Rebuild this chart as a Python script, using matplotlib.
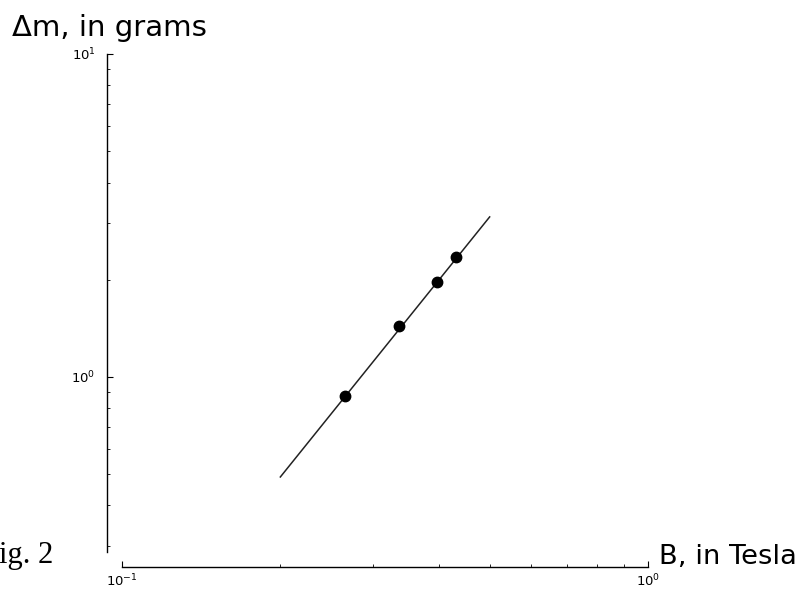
import matplotlib
matplotlib.use("Agg")
import matplotlib.pyplot as plt
from matplotlib.ticker import NullFormatter

# Data
B_points = [0.266, 0.336, 0.397, 0.4315]
dm_points = [0.875, 1.438, 1.968, 2.352]
fit_B = [0.2, 0.5]
fit_dm = [0.49, 3.13]

xlim = (0.1, 1.0)
ylim = (0.287, 10.0)

fig = plt.figure(figsize=(8.04, 5.92), dpi=100)
ax = fig.add_axes([122/804, 1-552/592, (648-122)/804, (552-54)/592])

ax.plot(fit_B, fit_dm, color="#222222", lw=1.1, zorder=2)
ax.plot(B_points, dm_points, "o", color="black", markersize=7.5, zorder=3)

ax.set_xscale("log")
ax.set_yscale("log")
ax.set_xlim(*xlim)
ax.set_ylim(*ylim)
ax.xaxis.set_minor_formatter(NullFormatter())
ax.yaxis.set_minor_formatter(NullFormatter())

for s in ("top", "right"):
    ax.spines[s].set_visible(False)
ax.spines["left"].set_position(("outward", 11))
ax.spines["bottom"].set_position(("outward", 11))
for s in ("left", "bottom"):
    ax.spines[s].set_linewidth(1.0)

ax.tick_params(which="major", direction="in", length=4.5, width=0.8, labelsize=9.5)
ax.tick_params(which="minor", direction="in", length=2.2, width=0.6)
ax.tick_params(axis="y", which="major", pad=8)
ax.tick_params(axis="x", which="major", pad=4)

fig.text(12/804, 1-28/592, "Δm, in grams", fontsize=21, ha="left", va="center")
fig.text(659/804, 1-557/592, "B, in Tesla", fontsize=19.7, ha="left", va="center")
fig.text(53/804, 1-556/592, "Fig. 2", fontsize=22, ha="right", va="center",
         family="Liberation Serif")

fig.savefig("out.png", dpi=100)
